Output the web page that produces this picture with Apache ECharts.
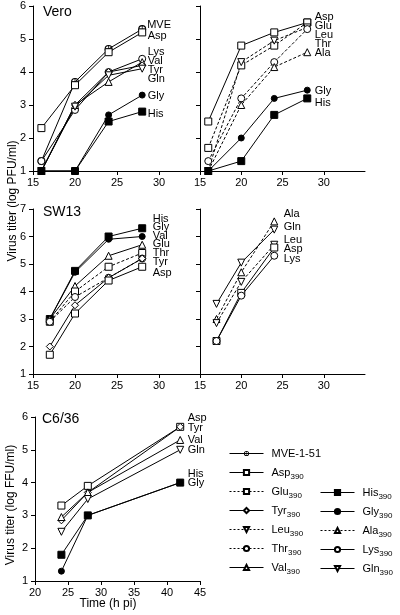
<!DOCTYPE html>
<html><head><meta charset="utf-8">
<script src="https://cdn.jsdelivr.net/npm/echarts@6/dist/echarts.min.js"></script>
<style>html,body{margin:0;padding:0;background:#fff}#c{width:400px;height:615px}</style>
</head><body><div id="c"></div>
<script>
// ================= DATA =================
// Vero, left panel
const veroL_time = [16, 20, 24, 28];
const veroL_MVE = [1.3, 3.7, 4.7, 5.3];
const veroL_Asp = [2.3, 3.6, 4.6, 5.2];
const veroL_Lys = [1.3, 2.85, 4.0, 4.4];
const veroL_Val = [1.0, 3.0, 3.7, 4.3];
const veroL_Tyr = [1.0, 3.0, 4.0, 4.2];
const veroL_Gln = [1.0, 2.95, 3.9, 4.1];
const veroL_Gly = [1.0, 1.0, 2.7, 3.3];
const veroL_His = [1.0, 1.0, 2.5, 2.8];
// Vero, right panel
const veroR_time = [16, 20, 24, 28];
const veroR_Asp = [2.5, 4.8, 5.2, 5.5];
const veroR_Glu = [1.7, 4.2, 4.8, 5.5];
const veroR_Leu = [1.0, 4.3, 4.95, 5.35];
const veroR_Thr = [1.3, 3.2, 4.3, 5.3];
const veroR_Ala = [1.0, 3.0, 4.15, 4.6];
const veroR_Gly = [1.0, 2.0, 3.2, 3.45];
const veroR_His = [1.0, 1.3, 2.7, 3.2];
// SW13, left panel
const swL_time = [17, 20, 24, 28];
const swL_His = [3.0, 4.75, 6.0, 6.3];
const swL_Gly = [3.0, 4.7, 5.9, 6.0];
const swL_Val = [3.0, 4.2, 5.3, 5.7];
const swL_Glu = [2.9, 4.0, 4.9, 5.4];
const swL_Thr = [2.9, 3.8, 4.5, 5.2];
const swL_Tyr = [2.0, 3.5, 4.5, 5.2];
const swL_Asp = [1.7, 3.2, 4.4, 4.9];
// SW13, right panel
const swR_time = [17, 20, 24];
const swR_Ala = [3.0, 4.7, 6.55];
const swR_Gln = [3.55, 5.05, 6.25];
const swR_Leu = [2.85, 4.35, 5.7];
const swR_Asp = [2.2, 3.95, 5.6];
const swR_Lys = [2.2, 3.85, 5.3];
// C6/36
const c6_time = [24, 28, 42];
const c6_Asp = [3.3, 3.9, 5.7];
const c6_Tyr = [2.85, 3.7, 5.7];
const c6_Val = [2.95, 3.7, 5.3];
const c6_Gln = [2.5, 3.5, 5.0];
const c6_His = [1.8, 3.0, 4.0];
const c6_Gly = [1.3, 3.0, 4.0];
// names
const legendCol1 = ['MVE-1-51', 'Asp390', 'Glu390', 'Tyr390', 'Leu390', 'Thr390', 'Val390'];
const legendCol2 = ['His390', 'Gly390', 'Ala390', 'Lys390', 'Gln390'];
const panelTitles = ['Vero', 'SW13', 'C6/36'];

// ================= STYLE =================
const FONT = '"Liberation Sans", Arial, Helvetica, sans-serif';
const DOWN_TRI = 'path://M0,0 L10,0 L5,8.66 Z';
const CROSS_CIRCLE = 'path://M0,10 A10,10 0 1,1 20,10 A10,10 0 1,1 0,10 Z M3,10 A7,7 0 1,0 17,10 A7,7 0 1,0 3,10 Z M9.1,1 L10.9,1 L10.9,19 L9.1,19 Z M1,9.1 L19,9.1 L19,10.9 L1,10.9 Z';
const STYLE = {
  MVE: {symbol: CROSS_CIRCLE, size: 8, fill: '#000', border: 0, dash: false},
  Asp: {symbol: 'rect', size: 7, fill: '#fff', border: 1, dash: false},
  Glu: {symbol: 'rect', size: 7, fill: '#fff', border: 1, dash: true},
  Tyr: {symbol: 'diamond', size: 7, fill: '#fff', border: 1, dash: false},
  Leu: {symbol: DOWN_TRI, size: 7, fill: '#fff', border: 1, dash: true},
  Thr: {symbol: 'circle', size: 7, fill: '#fff', border: 1, dash: true},
  Val: {symbol: 'triangle', size: 7, fill: '#fff', border: 1, dash: false},
  His: {symbol: 'rect', size: 7, fill: '#000', border: 1, dash: false},
  Gly: {symbol: 'circle', size: 6, fill: '#000', border: 1, dash: false},
  Ala: {symbol: 'triangle', size: 7, fill: '#fff', border: 1, dash: true},
  Lys: {symbol: 'circle', size: 7, fill: '#fff', border: 1, dash: false},
  Gln: {symbol: DOWN_TRI, size: 7, fill: '#fff', border: 1, dash: false}
};

const panels = [
  {grid: {left: 33, top: 6, width: 168, height: 165}, x: [15, 35], y: [1, 6], yLabels: true, showMax: false,
   time: veroL_time,
   series: {MVE: veroL_MVE, Asp: veroL_Asp, Lys: veroL_Lys, Val: veroL_Val, Tyr: veroL_Tyr, Gln: veroL_Gln, Gly: veroL_Gly, His: veroL_His},
   dx: 5, dy: {MVE: -4, Asp: 3.5, Lys: -7, Val: -1, Tyr: 4.5, Gln: 10, Gly: 1, His: 2.5}},
  {grid: {left: 200, top: 6, width: 165, height: 165}, x: [15, 35], y: [1, 6], yLabels: false, showMax: false,
   time: veroR_time,
   series: {Asp: veroR_Asp, Glu: veroR_Glu, Leu: veroR_Leu, Thr: veroR_Thr, Ala: veroR_Ala, Gly: veroR_Gly, His: veroR_His},
   dx: 7, dy: {Asp: -5.5, Glu: 3.5, Leu: 7.5, Thr: 15, Ala: 1, Gly: 1, His: 4.5}},
  {grid: {left: 33, top: 209, width: 168, height: 165}, x: [15, 35], y: [1, 7], yLabels: true, showMax: false,
   time: swL_time,
   series: {His: swL_His, Gly: swL_Gly, Val: swL_Val, Glu: swL_Glu, Thr: swL_Thr, Tyr: swL_Tyr, Asp: swL_Asp},
   dx: 10, dy: {His: -9, Gly: -9.5, Val: -9, Glu: -9, Thr: -5.5, Tyr: 3.5, Asp: 6}},
  {grid: {left: 200, top: 209, width: 165, height: 165}, x: [15, 35], y: [1, 7], yLabels: false, showMax: false,
   time: swR_time,
   series: {Ala: swR_Ala, Gln: swR_Gln, Leu: swR_Leu, Asp: swR_Asp, Lys: swR_Lys},
   dx: 9, dy: {Ala: -7.5, Gln: -2.5, Leu: -5, Asp: 1.5, Lys: 3}},
  {grid: {left: 35, top: 417, width: 165, height: 164}, x: [20, 45], y: [1, 6], yLabels: true, showMax: true,
   time: c6_time,
   series: {Asp: c6_Asp, Tyr: c6_Tyr, Val: c6_Val, Gln: c6_Gln, His: c6_His, Gly: c6_Gly},
   dx: 7, dy: {Asp: -9, Tyr: 1, Val: 0, Gln: 0, His: -8.5, Gly: 0}}
];

const axisLine = {show: true, lineStyle: {color: '#000', width: 1}};
const axisTick = {show: true, length: 4, lineStyle: {color: '#000', width: 1}};
const grids = [], xAxes = [], yAxes = [], series = [];

panels.forEach((p, i) => {
  grids.push(Object.assign({containLabel: false}, p.grid));
  xAxes.push({type: 'value', gridIndex: i, min: p.x[0], max: p.x[1], interval: 5,
    axisLine, axisTick, splitLine: {show: false},
    axisLabel: {color: '#000', fontSize: 11, fontFamily: FONT, margin: 6, showMaxLabel: p.showMax, showMinLabel: true}});
  yAxes.push({type: 'value', gridIndex: i, min: p.y[0], max: p.y[1], interval: 1,
    axisLine, axisTick, splitLine: {show: false},
    axisLabel: {show: p.yLabels, color: '#000', fontSize: 11, fontFamily: FONT, margin: 7}});
  Object.keys(p.series).forEach(key => {
    const vals = p.series[key];
    const st = STYLE[key];
    const data = vals.map((v, j) => {
      const pt = [p.time[j], v];
      if (j === vals.length - 1) {
        return {value: pt, label: {show: true, formatter: key, position: 'right',
          distance: p.dx - st.size / 2, offset: [0, p.dy[key] || 0]}};
      }
      return pt;
    });
    series.push({
      type: 'line', name: 'p' + i + '-' + key, xAxisIndex: i, yAxisIndex: i, data,
      symbol: st.symbol, symbolSize: st.size,
      lineStyle: {color: '#000', width: 1, type: st.dash ? [3, 2] : 'solid'},
      itemStyle: {color: st.fill, borderColor: '#000', borderWidth: st.border},
      label: {show: false, color: '#000', fontSize: 11, fontFamily: FONT},
      emphasis: {disabled: true}, silent: true, animation: false
    });
  });
});

// legend-only series
legendCol1.concat(legendCol2).forEach(name => {
  const key = name.slice(0, 3);
  const st = STYLE[key];
  series.push({
    type: 'line', name, xAxisIndex: 4, yAxisIndex: 4, data: [],
    symbol: st.symbol, symbolSize: 6,
    lineStyle: {color: '#000', width: 1, type: st.dash ? [2, 2] : 'solid'},
    itemStyle: {color: st.fill, borderColor: '#000', borderWidth: st.border}
  });
});

const legendCommon = {
  orient: 'vertical', itemWidth: 34, itemHeight: 6.5, itemGap: 2, padding: 0,
  selectedMode: false,
  lineStyle: {width: 1},
  formatter: n => n.endsWith('390') ? n.slice(0, -3) + '{s|390}' : n,
  textStyle: {color: '#000', fontSize: 11, fontFamily: FONT, lineHeight: 17, padding: [0, 0, 0, 3],
    rich: {s: {fontSize: 8, fontFamily: FONT, color: '#000', lineHeight: 17, verticalAlign: 'bottom'}}}
};

const option = {
  animation: false,
  grid: grids, xAxis: xAxes, yAxis: yAxes, series,
  legend: [
    Object.assign({data: legendCol1, left: 229, top: 445}, legendCommon),
    Object.assign({data: legendCol2, left: 320, top: 484}, legendCommon)
  ],
  graphic: [
    {type: 'text', x: 43, y: 12, style: {text: panelTitles[0], font: '14px ' + FONT, fill: '#000', verticalAlign: 'middle'}},
    {type: 'text', x: 43, y: 212.5, style: {text: panelTitles[1], font: '14px ' + FONT, fill: '#000', verticalAlign: 'middle'}},
    {type: 'text', x: 42, y: 419, style: {text: panelTitles[2], font: '14px ' + FONT, fill: '#000', verticalAlign: 'middle'}},
    {type: 'text', x: 13, y: 201, rotation: Math.PI / 2, style: {text: 'Virus titer (log PFU/ml)', font: '12px ' + FONT, fill: '#000', align: 'center', verticalAlign: 'middle'}},
    {type: 'text', x: 11, y: 505, rotation: Math.PI / 2, style: {text: 'Virus titer (log FFU/ml)', font: '12px ' + FONT, fill: '#000', align: 'center', verticalAlign: 'middle'}},
    {type: 'text', x: 108, y: 604, style: {text: 'Time (h pi)', font: '12px ' + FONT, fill: '#000', align: 'center', verticalAlign: 'middle'}}
  ]
};
const chart = echarts.init(document.getElementById('c'), null, {renderer: 'canvas'});
chart.setOption(option);
</script></body></html>
